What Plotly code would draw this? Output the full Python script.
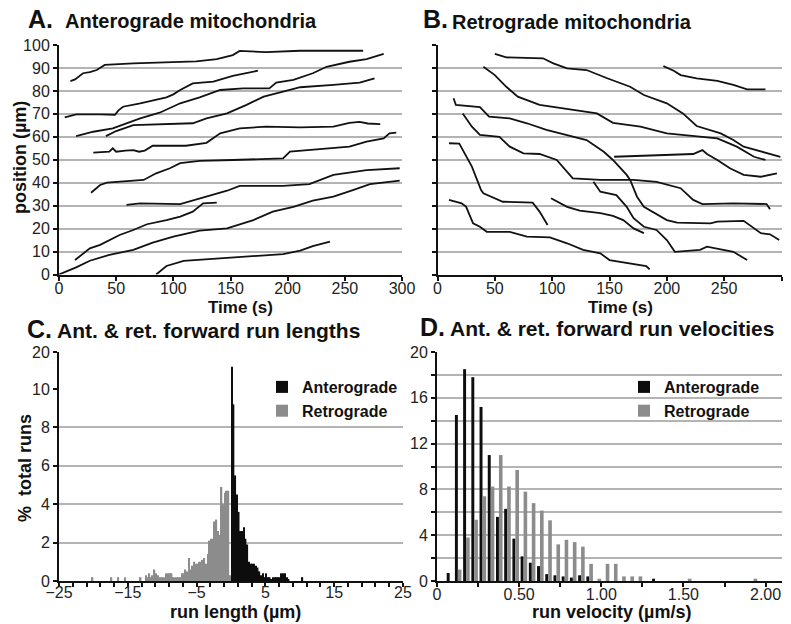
import plotly.graph_objects as go

FONT = "Liberation Sans, Arial, Helvetica, sans-serif"
W, H = 791, 624

# ---------------- Panel A: anterograde tracks (time s, position um) ----------------
a1_t = [10, 14, 21, 27, 33, 40, 65, 106, 120, 138, 152, 158, 181, 211, 266]
a1_p = [84.3, 85, 87.7, 88.2, 89.1, 91.3, 92.0, 92.7, 92.9, 93.8, 95.6, 97.4, 96.9, 97.5, 97.5]
a2_t = [5, 15, 36, 49, 52, 56, 71, 94, 100, 106, 117, 135, 152, 174]
a2_p = [68.5, 69.8, 69.8, 69.6, 71.5, 73.1, 74.6, 77.2, 78.5, 80.4, 83.3, 84.0, 86.5, 88.8]
a3_t = [15, 30, 47, 71, 88, 106, 123, 141, 161, 184, 190, 205, 222, 234, 254, 269, 284]
a3_p = [60.3, 62.2, 63.7, 68.0, 70.5, 74.6, 77.2, 80.4, 81.1, 81.1, 83.6, 84.8, 87.7, 90.5, 92.7, 93.8, 96.1]
a4_t = [41, 50, 65, 88, 117, 129, 147, 164, 179, 196, 211, 240, 263, 276]
a4_p = [60.3, 62.5, 65.1, 65.5, 65.9, 68.0, 70.2, 73.9, 77.5, 79.7, 81.6, 82.6, 83.6, 85.5]
a5_t = [30, 44, 47, 50, 58, 65, 70, 75, 82, 111, 129, 141, 158, 181, 211, 240, 254, 263, 270, 281]
a5_p = [53.1, 53.5, 55.0, 53.5, 54.0, 54.2, 53.5, 54.0, 56.1, 56.1, 57.4, 61.5, 63.7, 64.4, 64.1, 64.4, 66.1, 66.5, 65.8, 65.5]
a6_t = [28, 36, 42, 74, 85, 97, 106, 123, 152, 196, 202, 225, 254, 269, 284, 289, 295]
a6_p = [35.6, 39.0, 40.0, 41.2, 44.1, 46.3, 48.5, 49.5, 49.9, 50.6, 53.5, 54.5, 55.7, 57.9, 59.3, 61.5, 61.8]
a7_t = [59, 71, 106, 123, 147, 158, 196, 219, 228, 240, 269, 298]
a7_p = [30.3, 31.0, 30.7, 33.2, 36.5, 38.6, 38.6, 39.4, 41.2, 43.4, 45.5, 46.3]
a8_t = [14, 27, 36, 53, 65, 77, 94, 106, 117, 126, 138]
a8_p = [6.3, 11.4, 12.9, 17.2, 19.4, 21.9, 23.7, 25.2, 27.4, 31.0, 31.3]
a9_t = [0, 15, 27, 44, 65, 82, 100, 123, 147, 170, 187, 205, 222, 240, 257, 272, 298]
a9_p = [0, 3.1, 6.0, 8.5, 10.7, 13.9, 16.5, 19.1, 20.1, 23.7, 27.4, 29.5, 32.2, 33.9, 36.8, 39.4, 40.9]
a10_t = [85, 94, 109, 138, 167, 196, 211, 222, 237]
a10_p = [0, 3.7, 5.9, 6.8, 7.8, 8.9, 10.4, 12.4, 14.3]

# ---------------- Panel B: retrograde tracks ----------------
b1_t = [50, 60, 92, 101, 113, 130, 148, 168, 180, 200, 214, 226, 247, 258, 267, 282, 299]
b1_p = [96.1, 94.6, 94.2, 92.0, 89.8, 89.1, 85.5, 81.8, 78.2, 74.6, 70.2, 64.7, 61.5, 58.6, 55.7, 53.5, 51.3]
b2_t = [40, 50, 60, 70, 89, 118, 139, 153, 177, 200, 223, 244, 261, 276, 286]
b2_p = [90.5, 86.9, 81.8, 77.5, 73.9, 71.7, 70.2, 66.1, 64.4, 61.5, 60.3, 59.3, 55.7, 51.3, 49.9]
b3_t = [197, 206, 212, 226, 244, 258, 270, 286]
b3_p = [90.8, 88.8, 86.9, 85.5, 84.4, 82.6, 80.7, 80.7]
b4_t = [14, 16, 37, 45, 63, 78, 95, 113, 130, 145, 153, 165, 168, 174, 180, 200, 209, 238, 244, 267, 282, 290, 298]
b4_p = [76.8, 73.9, 72.9, 68.8, 68.0, 65.9, 63.0, 60.8, 58.6, 53.5, 49.9, 43.4, 41.2, 33.9, 29.5, 23.7, 22.6, 22.3, 23.0, 23.4, 18.0, 17.5, 15.0]
b5_t = [154, 171, 223, 231, 235, 244, 255, 267, 282, 296]
b5_p = [51.3, 51.6, 52.5, 54.2, 52.5, 49.9, 46.3, 43.4, 42.6, 44.1]
b6_t = [22, 30, 37, 54, 63, 75, 89, 104, 118, 142, 171, 191, 212, 220, 223, 231, 258, 287, 290]
b6_p = [70.2, 64.4, 60.8, 60.0, 55.7, 52.8, 52.5, 49.9, 41.9, 41.2, 41.2, 40.4, 37.6, 33.9, 32.5, 30.7, 31.0, 30.7, 28.4]
b7_t = [10, 19, 30, 38, 40, 57, 83, 89, 96]
b7_p = [57.2, 57.0, 47.0, 36.8, 35.4, 31.7, 31.3, 27.4, 21.6]
b8_t = [10, 21, 25, 31, 37, 43, 63, 78, 98, 113, 127, 142, 150, 171, 182, 185]
b8_p = [32.5, 31.0, 29.5, 22.3, 20.8, 18.6, 18.6, 16.5, 16.2, 13.6, 10.7, 9.2, 6.3, 4.6, 3.7, 2.3]
b9_t = [99, 113, 124, 142, 153, 162, 171, 180]
b9_p = [33.2, 29.5, 27.8, 26.7, 25.5, 23.7, 20.1, 18.0]
b10_t = [136, 142, 156, 165, 171, 180, 191, 200, 207, 229, 235, 252, 258, 270]
b10_p = [40.4, 36.1, 34.6, 29.5, 24.5, 20.8, 19.4, 15.0, 9.9, 10.7, 12.1, 10.7, 9.9, 6.3]

# ---------------- Panel C: run lengths (% total runs) ----------------
ant_len_x = [0.125, 0.375, 0.625, 0.875, 1.125, 1.375, 1.625, 1.875, 2.125, 2.375,
             2.625, 2.875, 3.125, 3.375, 3.625, 3.875, 4.125, 4.375, 4.625, 4.875,
             5.125, 5.375, 5.625, 5.875, 6.125, 6.375, 6.625, 6.875, 7.125, 7.375,
             7.625, 7.875, 8.125, 8.375, 10.375]
ant_len_pct = [16.0, 9.2, 5.5, 4.5, 3.6, 2.6, 2.6, 2.8, 2.2, 1.9,
               1.0, 0.9, 0.9, 0.9, 0.8, 0.7, 0.5, 0.3, 0.4, 0.2,
               0.4, 0.2, 0.2, 0.1, 0.2, 0.2, 0.2, 0.2, 0.2, 0.4,
               0.4, 0.4, 0.2, 0.1, 0.2]
ret_len_x = [-0.125, -0.375, -0.625, -0.875, -1.125, -1.375, -1.625, -1.875, -2.125, -2.375,
             -2.625, -2.875, -3.125, -3.375, -3.625, -3.875, -4.125, -4.375, -4.625, -4.875,
             -5.125, -5.375, -5.625, -5.875, -6.125, -6.375, -6.625, -6.875, -7.125, -7.375,
             -7.625, -7.875, -8.125, -8.375, -8.625, -8.875, -9.125, -9.375, -9.625, -9.875,
             -10.125, -10.375, -10.625, -10.875, -11.125, -11.375, -11.625, -11.875, -12.125, -12.375,
             -13.125, -15.375, -16.375, -17.375, -20.125]
ret_len_pct = [0.3, 4.7, 4.7, 4.6, 4.0, 4.9, 2.4, 2.6, 3.2, 3.1,
               2.2, 2.2, 2.1, 1.4, 0.9, 1.2, 1.1, 1.0, 1.0, 0.9,
               0.9, 1.0, 0.8, 0.6, 1.2, 0.5, 0.6, 0.4, 0.4, 0.2,
               0.2, 0.2, 0.2, 0.2, 0.4, 0.4, 0.4, 0.4, 0.2, 0.2,
               0.2, 0.2, 0.3, 0.4, 0.6, 0.3, 0.2, 0.4, 0.2, 0.3,
               0.2, 0.2, 0.2, 0.2, 0.2]

# ---------------- Panel D: run velocities (% total runs) ----------------
vel_bins = [0.075, 0.125, 0.175, 0.225, 0.275, 0.325, 0.375, 0.425, 0.475, 0.525,
            0.575, 0.625, 0.675, 0.725, 0.775, 0.825, 0.875, 0.925, 0.975, 1.025,
            1.075, 1.125, 1.175, 1.225, 1.275, 1.325, 1.375, 1.425, 1.475, 1.525,
            1.575, 1.625, 1.675, 1.725, 1.775, 1.825, 1.875, 1.925, 1.975]
ant_vel_pct = [0.7, 14.5, 18.5, 17.8, 15.2, 11.0, 5.6, 6.3, 3.7, 2.15,
               1.6, 1.3, 0.6, 0.5, 0.4, 0.3, 0.5, 0.4, 0, 0,
               0, 0, 0, 0, 0, 0.2, 0, 0, 0, 0,
               0, 0, 0, 0, 0, 0, 0, 0, 0]
ret_vel_pct = [0, 1.0, 3.8, 5.35, 7.4, 8.25, 11.0, 8.25, 9.7, 7.8,
               6.8, 6.15, 5.3, 3.2, 3.6, 3.4, 3.0, 1.5, 0.2, 1.5,
               1.5, 0.4, 0.4, 0.4, 0, 0, 0, 0, 0, 0.2,
               0, 0, 0, 0, 0, 0, 0, 0.2, 0]

# ---------------- figure ----------------
def fx(p):
    return p / W


def fy(p):
    return 1 - p / H


LINE = dict(color="#121212", width=1.8)
BLACK = "#0d0d0d"
GRAY = "#8c8c8c"
GRID = "#b4b4b4"

fig = go.Figure()

ant_tracks = [(a1_t, a1_p), (a2_t, a2_p), (a3_t, a3_p), (a4_t, a4_p), (a5_t, a5_p),
              (a6_t, a6_p), (a7_t, a7_p), (a8_t, a8_p), (a9_t, a9_p), (a10_t, a10_p)]
ret_tracks = [(b1_t, b1_p), (b2_t, b2_p), (b3_t, b3_p), (b4_t, b4_p), (b5_t, b5_p),
              (b6_t, b6_p), (b7_t, b7_p), (b8_t, b8_p), (b9_t, b9_p), (b10_t, b10_p)]
for t, p in ant_tracks:
    fig.add_trace(go.Scatter(x=t, y=p, mode="lines", line=LINE, xaxis="x", yaxis="y",
                             showlegend=False, hoverinfo="skip"))
for t, p in ret_tracks:
    fig.add_trace(go.Scatter(x=t, y=p, mode="lines", line=LINE, xaxis="x2", yaxis="y2",
                             showlegend=False, hoverinfo="skip"))

# Panel C (broken axis: lower 0-10, upper 10-20)
fig.add_trace(go.Bar(x=ant_len_x, y=ant_len_pct, name="Anterograde", width=0.22,
                     marker=dict(color=BLACK, line=dict(width=0)),
                     xaxis="x3", yaxis="y3", legend="legend", legendgroup="ca"))
fig.add_trace(go.Bar(x=ret_len_x, y=ret_len_pct, name="Retrograde", width=0.22,
                     marker=dict(color=GRAY, line=dict(width=0)),
                     xaxis="x3", yaxis="y3", legend="legend", legendgroup="cr"))
fig.add_trace(go.Bar(x=ant_len_x, y=ant_len_pct, width=0.22,
                     marker=dict(color=BLACK, line=dict(width=0)),
                     xaxis="x3", yaxis="y4", showlegend=False))

# Panel D
fig.add_trace(go.Bar(x=vel_bins, y=ant_vel_pct, name="Anterograde", width=0.018, offset=-0.016,
                     marker=dict(color=BLACK, line=dict(width=0)),
                     xaxis="x4", yaxis="y5", legend="legend2", legendgroup="da"))
fig.add_trace(go.Bar(x=vel_bins, y=ret_vel_pct, name="Retrograde", width=0.022, offset=0.002,
                     marker=dict(color=GRAY, line=dict(width=0)),
                     xaxis="x4", yaxis="y5", legend="legend2", legendgroup="dr"))

TICKFONT = dict(family=FONT, size=16, color="#222222")
base_ax = dict(showline=True, linecolor="#111111", linewidth=2, ticks="outside", ticklen=4,
               tickwidth=2, tickcolor="#111111", tickfont=TICKFONT, zeroline=False,
               fixedrange=True, automargin=False)
xstand = dict(ticklabelstandoff=-6)

fig.update_layout(
    template="none",
    width=W, height=H, margin=dict(l=0, r=0, t=0, b=0, pad=0),
    paper_bgcolor="white", plot_bgcolor="white", barmode="overlay",
    font=dict(family=FONT, color="#111111"),
    xaxis=dict(base_ax, **xstand, domain=[fx(59), fx(402)], range=[0, 300], anchor="y",
               tickvals=[0, 50, 100, 150, 200, 250, 300], showgrid=False),
    yaxis=dict(base_ax, domain=[fy(274.5), fy(45)], range=[0, 100], anchor="x",
               tickvals=[0, 10, 20, 30, 40, 50, 60, 70, 80, 90, 100],
               showgrid=True, gridcolor=GRID, gridwidth=1.5),
    xaxis2=dict(base_ax, **xstand, domain=[fx(437.5), fx(781.5)], range=[0, 300], anchor="y2",
                tickvals=[0, 50, 100, 150, 200, 250, 300],
                ticktext=["0", "50", "100", "150", "200", "250", ""], showgrid=False),
    yaxis2=dict(base_ax, domain=[fy(274.5), fy(45)], range=[0, 100], anchor="x2",
                tickvals=[0, 10, 20, 30, 40, 50, 60, 70, 80, 90, 100], showticklabels=False,
                showgrid=True, gridcolor=GRID, gridwidth=1.5),
    xaxis3=dict(base_ax, ticklabelstandoff=-8, domain=[fx(59), fx(403)], range=[-25, 25],
                anchor="y3", tickvals=[-25, -15, -5, 5, 15, 25], showgrid=False,
                minor=dict(ticks="outside", dtick=2, tick0=-25, ticklen=4, tickwidth=2,
                           tickcolor="#111111")),
    yaxis3=dict(base_ax, domain=[fy(581), fy(389)], range=[0, 10], anchor="x3",
                tickvals=[0, 2, 4, 6, 8, 10], showgrid=True, gridcolor=GRID, gridwidth=1.5),
    yaxis4=dict(base_ax, domain=[fy(389), fy(352)], range=[10, 20], anchor="x3",
                tickvals=[20], showgrid=True, gridcolor=GRID, gridwidth=1.5),
    xaxis4=dict(base_ax, ticklabelstandoff=-6, domain=[fx(437), fx(782)], range=[0, 2.1],
                anchor="y5", tickvals=[0, 0.5, 1.0, 1.5, 2.0],
                ticktext=["0", "0.50", "1.00", "1.50", "2.00"], showgrid=False,
                minor=dict(ticks="outside", dtick=0.25, tick0=0, ticklen=4, tickwidth=2,
                           tickcolor="#111111")),
    yaxis5=dict(base_ax, domain=[fy(581), fy(352)], range=[0, 20], anchor="x4",
                tickvals=[0, 4, 8, 12, 16, 20], showgrid=True, gridcolor=GRID, gridwidth=1.5,
                minor=dict(dtick=2, tick0=0, showgrid=True, gridcolor=GRID, gridwidth=1.5,
                           ticks="outside", ticklen=4, tickwidth=2, tickcolor="#111111")),
    legend=dict(x=fx(262), y=fy(370), xanchor="left", yanchor="top",
                bgcolor="rgba(0,0,0,0)", tracegroupgap=6, traceorder="normal",
                font=dict(family=FONT, size=16, weight=700, color="#111111")),
    legend2=dict(x=fx(624), y=fy(370), xanchor="left", yanchor="top",
                 bgcolor="rgba(0,0,0,0)", tracegroupgap=6, traceorder="normal",
                 font=dict(family=FONT, size=16, weight=700, color="#111111")),
)

annots = [
    ("A.", 26, 19, 25, "left", 0),
    ("Anterograde mitochondria", 63, 21, 20, "left", 0),
    ("B.", 421, 19, 25, "left", 0),
    ("Retrograde mitochondria", 450, 22, 20, "left", 0),
    ("C.", 25, 329, 25, "left", 0),
    ("Ant. & ret. forward run lengths", 55, 330, 21, "left", 0),
    ("D.", 418, 327, 25, "left", 0),
    ("Ant. & ret. forward run velocities", 448, 328, 21, "left", 0),
    ("position (µm)", 20, 158, 18, "center", -90),
    ("Time (s)", 240, 307, 17, "center", 0),
    ("Time (s)", 620, 307, 17, "center", 0),
    ("%  total runs", 25, 468, 18, "center", -90),
    ("run length (µm)", 236, 612, 18, "center", 0),
    ("run velocity (µm/s)", 611, 612, 18, "center", 0),
]
for text, x, y, size, anchor, angle in annots:
    fig.add_annotation(text=text, x=fx(x), y=fy(y), xref="paper", yref="paper",
                       xanchor=anchor, yanchor="middle", showarrow=False, textangle=angle,
                       font=dict(family=FONT, size=size, weight=700, color="#111111"))

fig.write_html("out.html")
